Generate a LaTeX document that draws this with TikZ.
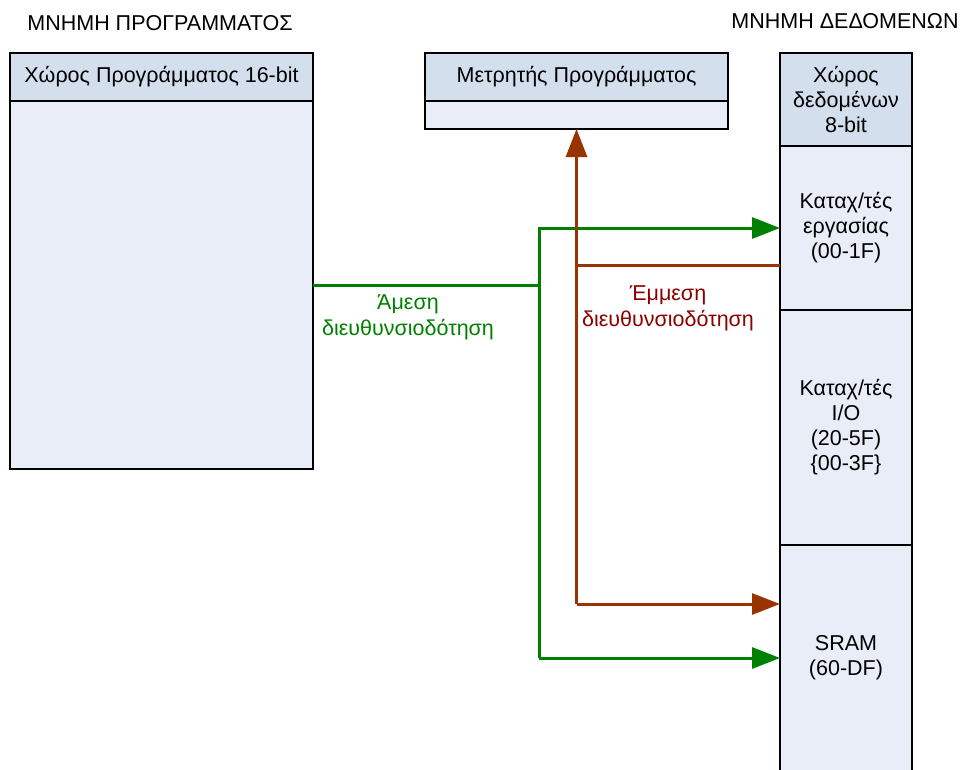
\documentclass[tikz,border=0pt]{standalone}
\usepackage{fontspec}
\setmainfont{Liberation Sans}
\usetikzlibrary{arrows.meta}
\definecolor{hdr}{HTML}{D4DFEE}
\definecolor{bdy}{HTML}{E8EDF7}
\definecolor{grn}{HTML}{008000}
\definecolor{brn}{HTML}{993300}
\definecolor{brntext}{HTML}{8B0000}
\tikzset{
  box/.style={draw=black, line width=1.5pt, rectangle, inner sep=0pt, outer sep=0pt, align=center, font=\fontsize{21.5}{25}\selectfont},
  hbox/.style={box, fill=hdr},
  bbox/.style={box, fill=bdy},
  ttl/.style={font=\fontsize{21.5}{25}\selectfont, inner sep=0pt},
  gline/.style={draw=grn, line width=3pt},
  bline/.style={draw=brn, line width=3pt},
  garr/.style={gline, -{Triangle[length=28pt,width=21pt]}},
  barr/.style={bline, -{Triangle[length=28pt,width=21pt]}},
  lbl/.style={align=center, inner sep=0pt, font=\fontsize{21.5}{26}\selectfont}
}
\begin{document}
\begin{tikzpicture}[x=1pt,y=-1pt]
\useasboundingbox (0,0) rectangle (960,769);
\clip (0,0) rectangle (960,769);
% titles
\node[ttl] (t1) at (160,23) {ΜΝΗΜΗ ΠΡΟΓΡΑΜΜΑΤΟΣ};
\node[ttl] (t2) at (845,21) {ΜΝΗΜΗ ΔΕΔΟΜΕΝΩΝ};
% program memory
\node[bbox, minimum width=303pt, minimum height=368pt] (prog) at (161.5,285) {};
\node[hbox, minimum width=303pt, minimum height=48pt] (progh) at (161.5,77) {Χώρος Προγράμματος 16-bit};
% program counter
\node[bbox, minimum width=303pt, minimum height=28pt] (cnt) at (576.5,115) {};
\node[hbox, minimum width=303pt, minimum height=48pt] (cnth) at (576.5,77) {Μετρητής Προγράμματος};
% data memory
\node[hbox, minimum width=132pt, minimum height=93pt] (dh) at (846,99.5) {Χώρος\\δεδομένων\\8-bit};
\node[bbox, minimum width=132pt, minimum height=164pt] (reg) at (846,228) {Καταχ/τές\\εργασίας\\(00-1F)};
\node[bbox, minimum width=132pt, minimum height=235pt] (io) at (846,427.5) {Καταχ/τές\\I/O\\(20-5F)\\\{00-3F\}};
\node[bbox, minimum width=132pt, minimum height=226pt] (sram) at (846,658) {SRAM\\(60-DF)};
\fill[bdy] (781,700) rectangle (911,775);
\draw[line width=1.5pt] (780,700) -- (780,775) (912,700) -- (912,775);
% junctions
\coordinate (gj) at (539,285);
\coordinate (gb) at (539,658);
\coordinate (bs) at (780,265);
\coordinate (bj) at (cnt.south |- bs);
\coordinate (bb) at (cnt.south |- 0,604);
% green connectors (direct addressing)
\draw[gline] (prog.east) -- (gj);
\draw[garr] (gj) |- (reg.west);
\draw[gline] (gj) -- (gb);
\draw[garr] (gb) -- (gb -| sram.west);
% brown connectors (indirect addressing)
\draw[bline] (bs) -- (bj);
\draw[barr] (bj) -- (cnt.south);
\draw[bline] (bj) -- (bb);
\draw[barr] (bb) -- (bb -| sram.west);
% labels
\node[lbl, text=grn] (l1) at (408,317) {Άμεση\\διευθυνσιοδότηση};
\node[lbl, text=brntext] (l2) at (668,308) {Έμμεση\\διευθυνσιοδότηση};
\end{tikzpicture}
\end{document}
